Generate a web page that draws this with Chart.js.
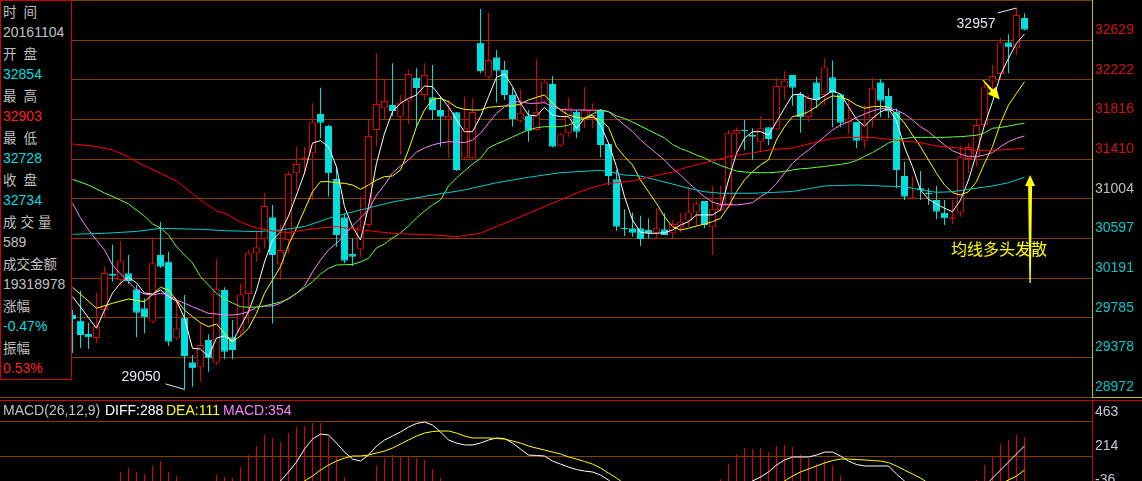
<!DOCTYPE html>
<html><head><meta charset="utf-8">
<script src="https://cdn.jsdelivr.net/npm/chart.js@4.4.1/dist/chart.umd.min.js"></script>
<style>
html,body{margin:0;padding:0;background:#000;}
body{width:1142px;height:481px;overflow:hidden;position:relative;font-family:"Liberation Sans","Noto Sans CJK SC",sans-serif;}
canvas{position:absolute;left:0;}
#main{top:0;}
#macd{top:400px;}
#info{position:absolute;left:0;top:0;width:70px;height:378px;border:1px solid #d00000;background:#000;}
#info div{height:21px;line-height:21px;font-size:14px;padding-left:2px;white-space:nowrap;color:#c0c0c0;}
#info .lab{font-family:"Noto Sans CJK SC","Liberation Sans",sans-serif;font-size:13.5px;word-spacing:4px;}
.line{position:absolute;height:1px;}
#hdr span{position:absolute;top:401px;line-height:18px;font-size:14px;white-space:nowrap;}
.ann{position:absolute;white-space:nowrap;line-height:16px;}
</style></head>
<body>
<canvas id="main" width="1142" height="400"></canvas>
<canvas id="macd" width="1142" height="100"></canvas>
<div id="info"></div>
<div class="line" style="left:0;top:400px;width:1142px;background:#d00000"></div>
<div class="line" style="left:1092px;top:397px;width:50px;background:#c0c000"></div>
<div id="hdr"></div>
<div id="lowLbl" class="ann" style="font-size:14px;color:#e8e8f0"></div>
<div id="highLbl" class="ann" style="font-size:14px;color:#e8e8f0"></div>
<div id="bullLbl" class="ann" style="font-size:16px;color:#ffff00;font-family:'Noto Sans CJK SC',sans-serif;line-height:20px">均线多头发散</div>
<script>
// ---------------- data ----------------
const dayIndex = Array.from({length:120},(_,i)=>i);
const opens = [29812,29754,29618,29577,29863,30232,30171,30239,30075,29881, 29744,30427,30358,29573,29785,29328,29276,29556,29324,30068, 29584,29641,30027,30444,30588,30814,30332,30580,31264,31407, 31469,31871,31748,31205,30813,30437,30485,30734,31707,31930, 31963,31844,32007,32243,32066,32042,31912,31810,31889,31417, 31417,32602,32253,32452,32322,32066,31803,31854,31707,31997, 32178,31546,31673,31895,31810,31844,31912,31564,31202,30700, 30700,30700,30683,30655,30690,30649,30711,30778,30864,30980, 30711,30888,30922,31663,31707,31656,31581,31735,31714,32145, 32271,32073,31837,32196,32066,32247,32073,31776,31792,31598, 31827,32196,32056,31895,31236,31004,31110,31062,30990,30860, 30799,30860,31410,31434,31759,32202,32281,32606,32544,32854];
const highs = [29863,30061,29730,30037,30307,30531,30570,30427,30120,29983, 30608,30768,30461,29966,30017,29402,29727,29614,30383,30096, 29761,30137,30478,30683,31065,30939,30734,31280,31536,31536, 31981,32141,31760,31331,30854,30598,31024,31810,32493,32230, 32391,32066,32329,32339,32391,32373,32056,32015,31892,32048, 32032,32947,32909,32527,32414,32134,32124,31912,32432,32227, 32260,31673,32038,31912,32151,31981,31922,31571,31298,30895, 30860,30829,30803,30905,30854,30785,30860,31126,30983,30980, 31134,31134,31707,31735,31810,31725,31851,31735,32247,32312, 32271,32100,32066,32253,32442,32417,32073,32022,31792,31963, 32247,32227,32134,31930,31383,31229,31287,31113,31134,30990, 30990,31546,31574,31827,32219,32373,32653,32688,32957,32903];
const lows = [29423,29471,29464,29525,29781,30153,30109,30130,29584,29625, 29727,30294,29495,29556,29050,29078,29129,29231,29300,29358, 29358,29590,29727,30355,30495,29727,30171,30444,31093,31246, 30990,31622,31024,30512,30342,30314,30409,30717,31536,31810, 31851,31451,31769,31741,32015,31810,31536,31420,31287,31407, 31407,32288,32219,31987,32015,31741,31782,31587,31700,31981, 31530,31536,31639,31622,31728,31725,31428,31144,30676,30621, 30614,30519,30591,30601,30632,30598,30655,30711,30717,30700, 30427,30870,30905,31485,31502,31400,31485,31554,31707,32022, 31956,31680,31792,31930,31963,31735,31735,31666,31520,31520, 31735,31837,31827,31110,30990,31001,30990,30939,30792,30734, 30744,30819,31267,31331,31741,32117,32219,32288,32476,32728];
const closes = [29771,29607,29584,29702,30242,30215,30368,30160,29836,29789, 30342,30307,29539,29676,29392,29266,29505,29369,30075,29436, 29454,30024,30450,30506,30929,30427,30478,31257,31359,31424, 31786,31782,31264,30632,30368,30409,30717,31646,31974,32004, 31902,31987,32281,32138,32271,31912,31844,31851,31298,31725, 31892,32312,32424,32315,32066,31820,31884,31700,31892,32202, 31536,31663,31930,31690,31912,31912,31554,31236,30717,30693, 30655,30591,30649,30700,30632,30744,30768,30864,30956,30734, 30895,30939,31673,31707,31697,31639,31725,31615,32158,32212, 32141,31837,32032,32015,32350,32083,31782,31827,31598,31776, 32134,32007,31902,31298,31024,31018,31093,31052,30870,30803, 30813,31434,31533,31759,32145,32260,32606,32554,32885,32734];

const ma5 = [30000,29894,29783,29676,29863,30037,30140,30198,30140,30037, 30027,30068,30000,29956,29781,29471,29464,29385,29577,29597, 29539,29692,29846,30068,30355,30580,30662,30826,31041,31267, 31574,31598,31536,31331,30922,30717,30580,30922,31366,31674, 31895,31981,32032,32066,32158,32151,32048,31946,31810,31690, 31690,31844,32048,32247,32281,32151,31981,31861,31851,31940, 31861,31844,31844,31725,31827,31861,31758,31574,31331,31024, 30785,30659,30649,30649,30655,30683,30734,30768,30837,30837, 30837,30888,31195,31469,31622,31690,31690,31656,31792,31930, 32066,32076,32032,32015,32056,32110,32076,31946,31817,31748, 31827,31892,31930,31799,31533,31331,31093,30997,30949,30905, 30870,30990,31195,31469,31758,31997,32271,32442,32595,32691];
const ma10 = [30096,null,null,29881,null,29932,null,29976,null,29948, null,30096,30068,29966,29863,29795,29733,29692,29720,29625, 29539,29597,29676,29829,30034,30171,30307,30529,30703,30888, 31075,31178,31178,31167,31161,31144,31100,31144,31195,31229, 31236,31298,31502,31741,31912,32022,32032,31997,31940,31919, 31912,31912,31940,31946,31953,31953,31974,32015,32042,32066, 31981,31912,31861,31837,31827,31837,31810,31735,31536,31434, 31349,31195,31075,30956,30819,30717,30683,30700,30724,30744, 30768,30803,30922,31075,31195,31280,31349,31400,31605,31741, 31844,31861,31895,31946,32015,32056,32048,32015,31963,31930, 31946,31950,31943,31871,31779,31656,31536,31400,31264,31144, 31065,31041,31075,31178,31366,31536,31776,31963,32083,32202];
const ma20 = [30956,30806,30683,30580,30478,30324,30232,30153,30068,30027, 30017,30034,30017,29966,29932,29897,29863,29829,29822,29812, 29812,29822,29846,29891,29904,29904,29932,29983,30034,30109, 30253,30376,30478,30546,30632,30724,30806,30888,31041,31144, 31267,31339,31400,31482,31523,31554,31574,31587,31584,31577, 31605,31674,31776,31878,31946,31997,31997,31981,31981,31987, 31946,31919,31912,31912,31912,31909,31912,31895,31827,31758, 31690,31605,31536,31469,31400,31315,31246,31167,31093,31024, 30967,30946,30946,30939,30949,30963,31024,31075,31161,31264, 31366,31441,31502,31571,31639,31707,31758,31792,31837,31871, 31902,31926,31930,31912,31871,31810,31741,31690,31622,31554, 31495,31461,31434,31434,31451,31475,31536,31587,31622,31646];
const ma30 = [31202,null,31144,null,31062,null,30990,30949,30888,30826, 30744,30703,30632,30512,30427,30345,30205,30119,30034,29976, 29935,29897,29891,29894,29904,29925,29945,29976,30034,30089, 30153,30232,30290,30324,30327,30330,30355,30393,30499,30540, 30601,30652,30724,30806,30877,30939,30990,31134,31216,31287, 31359,31417,31523,31564,31598,31636,31674,31707,31731,31741, 31741,31741,31758,31789,31830,31871,31912,31895,31851,31825, 31789,31748,31707,31666,31625,31559,31518,31487,31451,31420, 31379,31344,31315,31287,31277,31272,31270,31270,31275,31282, 31298,31310,31315,31325,31333,31346,31354,31369,31395,31436, 31477,31523,31574,31610,31620,31632,31632,31632,31632,31632, 31636,31639,31646,31653,31677,31725,31733,31748,31764,31776];
const ma60Idx = [0,4,8,11,16,19,23,26,29,32,36,40,45,49,53,57,61,66,67,69,71,73,75,77,79,81,85,90,94,98,101,104,106,108,110,112,115,117,119];
const ma60 = [30639,30649,30668,30700,30690,30676,30666,30683,30717,30803,30888,30970,31041,31093,31167,31223,31270,31294,31280,31246,31236,31195,31154,31110,31075,31059,31059,31077,31134,31144,31134,31126,31093,31069,31075,31100,31134,31167,31223];
const ma120Idx = [0,3,5,7,8,11,13,16,18,19,21,23,25,27,29,31,33,36,40,45,48,51,53,55,57,59,61,63,65,67,70,72,75,77,80,82,85,87,90,92,95,97,100,102,104,106,108,111,113,116,119];
const ma120 = [31564,31538,31502,31434,31380,31264,31185,30990,30878,30857,30765,30703,30673,30657,30683,30703,30717,30683,30649,30632,30614,30649,30717,30785,30854,30922,30990,31062,31118,31161,31185,31223,31277,31331,31390,31434,31472,31502,31523,31564,31622,31632,31632,31612,31595,31577,31543,31520,31497,31502,31520];

const diff = [null,null,null,null,null,null,null,null,null,null, null,null,null,null,null,null,null,null,null,null, null,null,null,null,null,-20,31,97,170,265, 338,375,368,309,243,192,177,221,287,331, 360,390,426,452,463,441,390,331,309,295, 295,309,331,346,342,309,265,221,218,214, 177,155,133,115,104,97,75,38,-10,null, null,null,null,null,null,null,null,null,null,null, null,null,null,null,-10,31,60,97,148,185, 207,207,207,221,243,243,214,177,152,141, 141,141,141,82,31,-20,null,null,null,null, null,null,null,null,-10,53,111,170,229,288];
const dea = [null,null,null,null,null,null,null,null,null,null, null,null,null,null,null,null,null,null,null,null, null,null,null,null,null,null,null,null,-10,31, 67,111,148,177,199,214,214,221,236,250, 272,302,331,360,382,393,397,397,382,360, 346,346,346,342,338,324,309,287,272,258, 243,229,207,192,174,155,126,89,53,10, null,null,null,null,null,null,null,null,null,null, null,null,null,null,null,null,null,null,0,31, 67,97,119,141,163,181,192,192,188,185, 181,177,166,141,111,82,53,15,null,null, null,null,null,null,null,null,10,38,67,111];
const macdBars = [null,null,null,null,null,null,97,126,97,82, 141,177,97,67,null,null,null,null,75,60, 53,133,221,287,368,346,316,382,426,434, 456,456,353,214,60,null,null,null,141,199, 221,207,214,201,185,119,53,null,null,null, null,null,null,null,null,null,null,null,null,null, null,null,null,null,null,null,null,null,null,null, null,null,null,null,null,null,null,null,null,null, null,45,160,226,270,265,270,241,287,295, 282,226,197,160,185,143,67,null,null,null, null,null,null,null,null,null,null,null,null,null, null,null,null,38,148,216,300,331,368,354];

const priceTicks = [28972,29378.3,29784.7,30191,30597.3,31003.7,31410,31816.3,32222.7,32629,33035.3];
const priceTickLabels = ['28972','29378','29785','30191','30597','31004','31410','31816','32222','32629',''];
const macdTicks = [-36,214,463];
const macdTickLabels = ['-36','214','463'];

const infoLabels = ['时 间','开 盘','最 高','最 低','收 盘','成交量','成交金额','涨幅','振幅'];
const infoDate = '20161104', infoVolume = '589', infoAmount = '19318978', infoChange = '-0.47%', infoAmplitude = '0.53%';

// annotation anchors (index, price)
const upArrow = {at:119.7, from:30140, to:31246};
const diagArrow = {x0:113.8, y0:32219, x1:115.9, y1:32020};
const bullText = {at:109.8, price:30498};

// ---------------- styling ----------------
const CYAN = '#00dede', RED = '#e00000', GRID = 'rgb(128,64,0)';
const X_MIN = -72.5/8, X_MAX = (1092-72.5)/8;

// info panel
const info = document.getElementById('info');
const last = 119;
const infoRows = [
  [infoLabels[0],'lab'],[infoDate,'#c0c0c0'],
  [infoLabels[1],'lab'],[String(opens[last]),CYAN],
  [infoLabels[2],'lab'],[String(highs[last]),'#ff2020'],
  [infoLabels[3],'lab'],[String(lows[last]),CYAN],
  [infoLabels[4],'lab'],[String(closes[last]),CYAN],
  [infoLabels[5],'lab3'],[infoVolume,'#c0c0c0'],
  [infoLabels[6],'lab'],[infoAmount,'#c0c0c0'],
  [infoLabels[7],'lab'],[infoChange,CYAN],
  [infoLabels[8],'lab'],[infoAmplitude,'#ff2020']
];
infoRows.forEach(([t,c])=>{
  const d=document.createElement('div');
  d.textContent=t;
  if(c==='lab'){d.className='lab';}
  else if(c==='lab3'){d.className='lab';d.style.letterSpacing='4px';}
  else d.style.color=c;
  info.appendChild(d);
});

// MACD header
const hdr=document.getElementById('hdr');
[['MACD(26,12,9)','#c0c0c0',3],['DIFF:'+diff[last],'#ffffff',105],['DEA:'+dea[last],'#ffff00',166],['MACD:'+macdBars[last],'#ff80ff',223]].forEach(([t,c,x])=>{
  const s=document.createElement('span');s.textContent=t;s.style.color=c;s.style.left=x+'px';hdr.appendChild(s);
});

const up = i => closes[i] >= opens[i];
function seriesLine(vals, color, idxArr, span){
  return {type:'line', data: idxArr ? idxArr.map((i,k)=>({x:i,y:vals[k]})) : vals.map((v,i)=>({x:i,y:v})),
    borderColor:color, borderWidth:1, pointRadius:0, tension:0, spanGaps:span, fill:false, order:0};
}

const marks = {
  id:'marks',
  afterDatasetsDraw(c){
    const ctx=c.ctx, xs=c.scales.x, ys=c.scales.y;
    ctx.save();
    const lo = lows.indexOf(Math.min(...lows)), hi = highs.indexOf(Math.max(...highs));
    ctx.strokeStyle='#e8e8f0'; ctx.lineWidth=1;
    let px=xs.getPixelForValue(lo), py=ys.getPixelForValue(lows[lo]);
    ctx.beginPath(); ctx.moveTo(px-19,py-5.5); ctx.lineTo(px,py); ctx.stroke();
    px=xs.getPixelForValue(hi); py=ys.getPixelForValue(highs[hi]);
    ctx.beginPath(); ctx.moveTo(px-19,py+5); ctx.lineTo(px,py); ctx.stroke();
    // up arrow
    ctx.fillStyle='#ffff00';
    const ax=xs.getPixelForValue(upArrow.at), at=ys.getPixelForValue(upArrow.to), ab=ys.getPixelForValue(upArrow.from);
    ctx.beginPath(); ctx.moveTo(ax,at); ctx.lineTo(ax+5,at+11); ctx.lineTo(ax+2,at+11); ctx.lineTo(ax+0.7,ab);
    ctx.lineTo(ax-0.7,ab); ctx.lineTo(ax-2,at+11); ctx.lineTo(ax-5,at+11); ctx.closePath(); ctx.fill();
    // diagonal arrow
    const tx=xs.getPixelForValue(diagArrow.x0), ty=ys.getPixelForValue(diagArrow.y0);
    const hx=xs.getPixelForValue(diagArrow.x1), hy=ys.getPixelForValue(diagArrow.y1);
    const L=Math.hypot(hx-tx,hy-ty), dx=(hx-tx)/L, dy=(hy-ty)/L, nx=-dy, ny=dx;
    const bx=hx-dx*12, by=hy-dy*12;
    ctx.beginPath(); ctx.moveTo(hx,hy); ctx.lineTo(bx+nx*5.5,by+ny*5.5); ctx.lineTo(bx+nx*1.5,by+ny*1.5);
    ctx.lineTo(tx+nx*0.5,ty+ny*0.5); ctx.lineTo(tx-nx*0.5,ty-ny*0.5); ctx.lineTo(bx-nx*1.5,by-ny*1.5);
    ctx.lineTo(bx-nx*5.5,by-ny*5.5); ctx.closePath(); ctx.fill();
    ctx.restore();
  }
};

const mainChart = new Chart(document.getElementById('main'), {
  type:'bar',
  data:{datasets:[
    {type:'bar', data:dayIndex.map(i=>({x:i,y:[lows[i],highs[i]]})), backgroundColor:dayIndex.map(i=>up(i)?RED:CYAN),
      borderWidth:0, barThickness:1, grouped:false, order:2, inflateAmount:0},
    {type:'bar', data:dayIndex.map(i=>({x:i,y:[opens[i],closes[i]]})), backgroundColor:dayIndex.map(i=>up(i)?'#000000':CYAN),
      borderColor:dayIndex.map(i=>up(i)?RED:CYAN), borderWidth:1, borderSkipped:false, barThickness:7, grouped:false,
      order:1, minBarLength:1, inflateAmount:0},
    seriesLine(ma120,'#ff0000',ma120Idx,true),
    seriesLine(ma60,'#00cccc',ma60Idx,true),
    seriesLine(ma30,'#66ff44',null,true),
    seriesLine(ma20,'#ff80ff',null,true),
    seriesLine(ma10,'#ffff00',null,true),
    seriesLine(ma5,'#ffffff',null,true)
  ]},
  options:{
    responsive:false, animation:false, devicePixelRatio:1, events:[],
    layout:{padding:{top:0,bottom:3,left:0,right:0}},
    plugins:{legend:{display:false}, tooltip:{enabled:false}},
    scales:{
      x:{type:'linear', min:X_MIN, max:X_MAX, offset:false, display:false},
      y:{position:'right', min:28972, max:33039,
        afterBuildTicks:s=>{s.ticks=priceTicks.map(v=>({value:v}));},
        afterFit:s=>{s.width=50; s.paddingTop=0; s.paddingBottom=0;},
        grid:{color:GRID, drawTicks:false, lineWidth:1},
        border:{display:true, color:'#c0c000', width:1},
        ticks:{padding:3, labelOffset:-10, autoSkip:false, font:{family:'Liberation Sans', size:14},
          color:c=>{const v=priceTicks[c.index]; return v>31200?'#d81010':(v>31000?'#c0c0c0':'#00c8c8');},
          callback:(v,i)=>priceTickLabels[i]}
      }
    }
  },
  plugins:[marks]
});

new Chart(document.getElementById('macd'), {
  type:'bar',
  data:{datasets:[
    {type:'bar', data:dayIndex.map(i=>({x:i,y:macdBars[i]})), backgroundColor:RED, borderWidth:0, barThickness:1,
      grouped:false, order:1, inflateAmount:0},
    seriesLine(dea,'#ffff00',null,false),
    seriesLine(diff,'#ffffff',null,false)
  ]},
  options:{
    responsive:false, animation:false, devicePixelRatio:1, events:[],
    layout:{padding:0},
    plugins:{legend:{display:false}, tooltip:{enabled:false}},
    scales:{
      x:{type:'linear', min:X_MIN, max:X_MAX, offset:false, display:false},
      y:{position:'right', min:-108, max:624,
        afterBuildTicks:s=>{s.ticks=macdTicks.map(v=>({value:v}));},
        afterFit:s=>{s.width=50; s.paddingTop=0; s.paddingBottom=0;},
        grid:{color:GRID, drawTicks:false, lineWidth:1},
        border:{display:true, color:'#d00000', width:1},
        ticks:{padding:3, labelOffset:-10, autoSkip:false, font:{family:'Liberation Sans', size:14}, color:'#c8c8d0',
          callback:(v,i)=>macdTickLabels[i]}
      }
    }
  }
});

// place annotation texts using the chart's scales
(function(){
  const xs=mainChart.scales.x, ys=mainChart.scales.y;
  const lo = lows.indexOf(Math.min(...lows)), hi = highs.indexOf(Math.max(...highs));
  const l=document.getElementById('lowLbl'); l.textContent=String(lows[lo]);
  l.style.left=(xs.getPixelForValue(lo)-24)+'px'; l.style.top=(ys.getPixelForValue(lows[lo])-13)+'px'; l.style.transform='translate(-100%,-50%)';
  const h=document.getElementById('highLbl'); h.textContent=String(highs[hi]);
  h.style.left=(xs.getPixelForValue(hi)-21)+'px'; h.style.top=(ys.getPixelForValue(highs[hi])+15)+'px'; h.style.transform='translate(-100%,-50%)';
  const b=document.getElementById('bullLbl');
  b.style.left=xs.getPixelForValue(bullText.at)+'px'; b.style.top=ys.getPixelForValue(bullText.price)+'px'; b.style.transform='translate(0,-50%)';
})();
</script>
</body></html>
